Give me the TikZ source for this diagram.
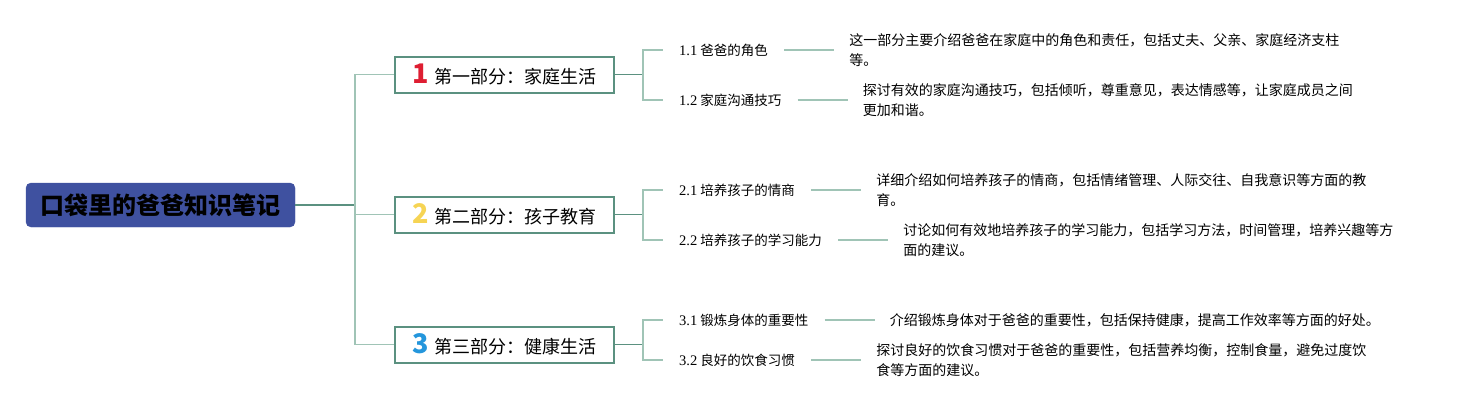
\documentclass[tikz,border=0pt]{standalone}
\usepackage{fontspec}
\setmainfont{Noto Sans CJK SC}
\newfontfamily\latnum[Scale=1.08]{Liberation Serif}
\usetikzlibrary{positioning}
\definecolor{rootblue}{RGB}{63,81,160}
\definecolor{branchgreen}{RGB}{91,145,128}
\definecolor{twiggreen}{RGB}{160,196,182}
\definecolor{numred}{RGB}{222,30,50}
\definecolor{numyellow}{RGB}{246,212,84}
\definecolor{numblue}{RGB}{36,150,220}
\newcommand{\partno}[2]{{\fontsize{27}{27}\selectfont\bfseries\color{#1}#2}\hspace{6pt}}

\begin{document}
\begin{tikzpicture}[x=1pt ,y=-1pt ,root/.style ={ rectangle ,rounded corners=5pt ,fill=rootblue ,draw=rootblue ,minimum width=269pt ,minimum height=44pt ,text=black ,font=\fontsize{24}{24}\selectfont\bfseries}, part/.style ={ rectangle ,draw=branchgreen ,line width=2pt ,minimum width=219pt ,minimum height=36pt ,inner sep=0pt ,font=\fontsize{18}{18}\selectfont}, topic/.style ={ anchor=west ,inner xsep=16pt ,inner ysep=2pt ,font=\fontsize{13.5}{16}\selectfont}, note/.style ={ inner xsep=15pt ,inner ysep=0pt ,align=left ,font=\fontsize{14}{19.5}\selectfont}, trunk/.style ={ branchgreen ,line width=1.8pt}, twig/.style ={ twiggreen ,line width=1.8pt}]
\useasboundingbox (0,0) rectangle (1466,410);
\node[root] (R) at (160.5,205) {口袋里的爸爸知识笔记};
\node[part] (P1) at (504.5,74.5) {\partno{numred}{1}第一部分：家庭生活};
\node[part] (P2) at (504.5,214.5) {\partno{numyellow}{2}第二部分：孩子教育};
\node[part] (P3) at (504.5,344.5) {\partno{numblue}{3}第三部分：健康生活};
\coordinate (J0) at (355,205);
\coordinate (J1) at (643,74.5);
\coordinate (J2) at (643,214.5);
\coordinate (J3) at (643,344.5);
\node[topic] (T11) at (663,50) {{\latnum 1.1} 爸爸的角色};
\node[topic] (T12) at (663,100) {{\latnum 1.2} 家庭沟通技巧};
\node[topic] (T21) at (663,190) {{\latnum 2.1} 培养孩子的情商};
\node[topic] (T22) at (663,240) {{\latnum 2.2} 培养孩子的学习能力};
\node[topic] (T31) at (663,320) {{\latnum 3.1} 锻炼身体的重要性};
\node[topic] (T32) at (663,360) {{\latnum 3.2} 良好的饮食习惯};
\node[note] (N11) [right = 50pt of T11] {这一部分主要介绍爸爸在家庭中的角色和责任，包括丈夫、父亲、家庭经济支柱\\等。};
\node[note] (N12) [right = 50pt of T12] {探讨有效的家庭沟通技巧，包括倾听，尊重意见，表达情感等，让家庭成员之间\\更加和谐。};
\node[note] (N21) [right = 50pt of T21] {详细介绍如何培养孩子的情商，包括情绪管理、人际交往、自我意识等方面的教\\育。};
\node[note] (N22) [right = 50pt of T22] {讨论如何有效地培养孩子的学习能力，包括学习方法，时间管理，培养兴趣等方\\面的建议。};
\node[note] (N31) [right = 50pt of T31] {介绍锻炼身体对于爸爸的重要性，包括保持健康，提高工作效率等方面的好处。};
\node[note] (N32) [right = 50pt of T32] {探讨良好的饮食习惯对于爸爸的重要性，包括营养均衡，控制食量，避免过度饮\\食等方面的建议。};
% root to parts
\draw[trunk] (R.east) -- (J0);
\draw[twig] (J0) |- (P1.west);
\draw[twig] (J0) |- (P2.west);
\draw[twig] (J0) |- (P3.west);
% parts to topics
\draw[trunk] (P1.east) -- (J1);
\draw[trunk] (P2.east) -- (J2);
\draw[trunk] (P3.east) -- (J3);
\draw[twig] (J1) |- (T11.west);
\draw[twig] (J1) |- (T12.west);
\draw[twig] (J2) |- (T21.west);
\draw[twig] (J2) |- (T22.west);
\draw[twig] (J3) |- (T31.west);
\draw[twig] (J3) |- (T32.west);
% topics to notes
\path (T11) edge[twig] (N11);
\path (T12) edge[twig] (N12);
\path (T21) edge[twig] (N21);
\path (T22) edge[twig] (N22);
\path (T31) edge[twig] (N31);
\path (T32) edge[twig] (N32);
\end{tikzpicture}
\end{document}
